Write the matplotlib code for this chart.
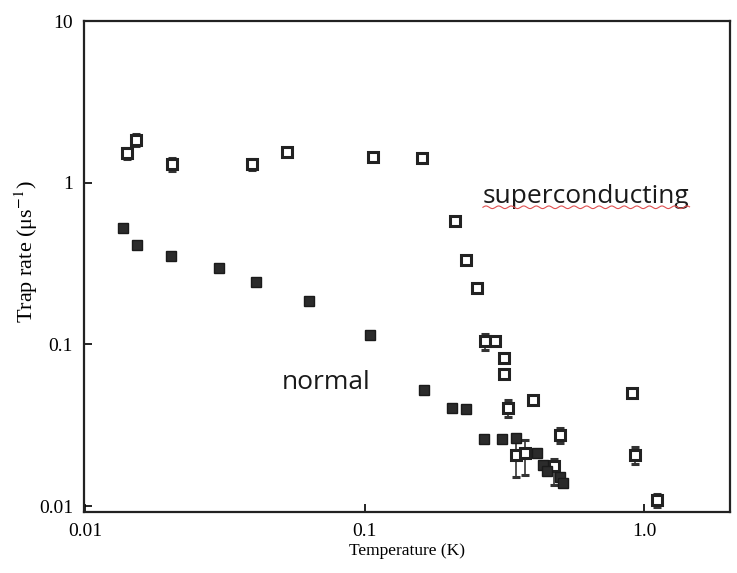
import numpy as np
import matplotlib
matplotlib.use("Agg")
import matplotlib.pyplot as plt
from matplotlib.ticker import FixedLocator, FixedFormatter, NullLocator

plt.rcParams['font.family'] = ['Liberation Serif', 'DejaVu Serif']
plt.rcParams['mathtext.fontset'] = 'stix'

# normal state (filled squares)
t_normal = [0.0136, 0.0153, 0.0203, 0.0302, 0.0409, 0.063, 0.1046, 0.163,
            0.205, 0.230, 0.268, 0.310, 0.348, 0.413, 0.436, 0.450, 0.500, 0.513]
rate_normal = [0.527, 0.415, 0.355, 0.298, 0.242, 0.185, 0.115, 0.0525,
               0.0404, 0.0399, 0.0260, 0.0260, 0.0264, 0.0213, 0.0180, 0.0166,
               0.0152, 0.0139]

# superconducting state (open squares) with error bars
t_super = [0.0141, 0.0152, 0.0204, 0.0395, 0.0529, 0.107, 0.160, 0.211, 0.231,
           0.252, 0.270, 0.293, 0.314, 0.314, 0.327, 0.400, 0.501, 0.348, 0.375,
           0.476, 0.908, 0.929, 1.116]
rate_super = [1.53, 1.85, 1.30, 1.30, 1.55, 1.44, 1.43, 0.578, 0.335,
              0.224, 0.1046, 0.1046, 0.0825, 0.0659, 0.0404, 0.0455, 0.0276,
              0.0208, 0.0213, 0.0176, 0.050, 0.0208, 0.0109]
err_lo = [0.12, 0.15, 0.12, 0.10, 0.06, 0.05, 0.05, 0.02, 0.012,
          0.008, 0.012, 0.004, 0.003, 0.003, 0.005, 0.002, 0.003,
          0.0056, 0.0057, 0.0041, 0.002, 0.0025, 0.0010]
err_hi = [0.12, 0.15, 0.12, 0.10, 0.06, 0.05, 0.05, 0.02, 0.012,
          0.008, 0.012, 0.004, 0.003, 0.003, 0.005, 0.002, 0.003,
          0.0040, 0.0044, 0.0020, 0.002, 0.0025, 0.0010]

x_ticks = [0.01, 0.1, 1.0]
x_labels = ['0.01', '0.1', '1.0']
y_ticks = [0.01, 0.1, 1, 10]
y_labels = ['0.01', '0.1', '1', '10']

fig = plt.figure(figsize=(7.37, 5.73), dpi=100)
ax = fig.add_axes([0.114, 0.1065, 0.8765, 0.8565])
ax.set_xscale('log')
ax.set_yscale('log')

ax.errorbar(t_super, rate_super, yerr=[err_lo, err_hi], fmt='s', ms=7,
            mfc='white', mec='#222222', mew=2.2, ecolor='#333333',
            elinewidth=1.2, capsize=3, capthick=1.2, zorder=3)
ax.plot(t_normal, rate_normal, 's', ms=7.5, color='#2b2b2b', mec='#1a1a1a', zorder=4)

ax.set_xlim(0.0099, 2.03)
ax.set_ylim(0.0092, 10)

ax.xaxis.set_major_locator(FixedLocator(x_ticks))
ax.xaxis.set_major_formatter(FixedFormatter(x_labels))
ax.yaxis.set_major_locator(FixedLocator(y_ticks))
ax.yaxis.set_major_formatter(FixedFormatter(y_labels))
ax.xaxis.set_minor_locator(NullLocator())
ax.yaxis.set_minor_locator(NullLocator())
ax.tick_params(direction='in', length=6, width=1.2, labelsize=14, pad=8)

for s in ax.spines.values():
    s.set_linewidth(1.6)
    s.set_color('#222222')

ax.set_xlabel('Temperature (K)', fontsize=12.5, labelpad=2)
ax.set_ylabel('Trap rate (μs$^{-1}$)', fontsize=16)
ax.yaxis.set_label_coords(-0.068, 0.53)

txt = ax.text(0.265, 0.82, 'superconducting', family=['Open Sans', 'DejaVu Sans'],
              fontsize=19, va='center', ha='left', color='#1a1a1a')
ax.text(0.0505, 0.058, 'normal', family=['Open Sans', 'DejaVu Sans'],
        fontsize=19, va='center', ha='left', color='#1a1a1a')

# red spell-check squiggle under "superconducting"
fig.canvas.draw()
bb = txt.get_window_extent()
wx = np.linspace(bb.x0, bb.x1, 300)
wy = bb.y0 + 2.0 + 1.3 * np.sin((wx - bb.x0) / 2.0)
pts = fig.transFigure.inverted().transform(np.column_stack([wx, wy]))
fig.add_artist(plt.Line2D(pts[:, 0], pts[:, 1], color='#e05050', lw=0.8))

fig.savefig('out.png', dpi=100)
